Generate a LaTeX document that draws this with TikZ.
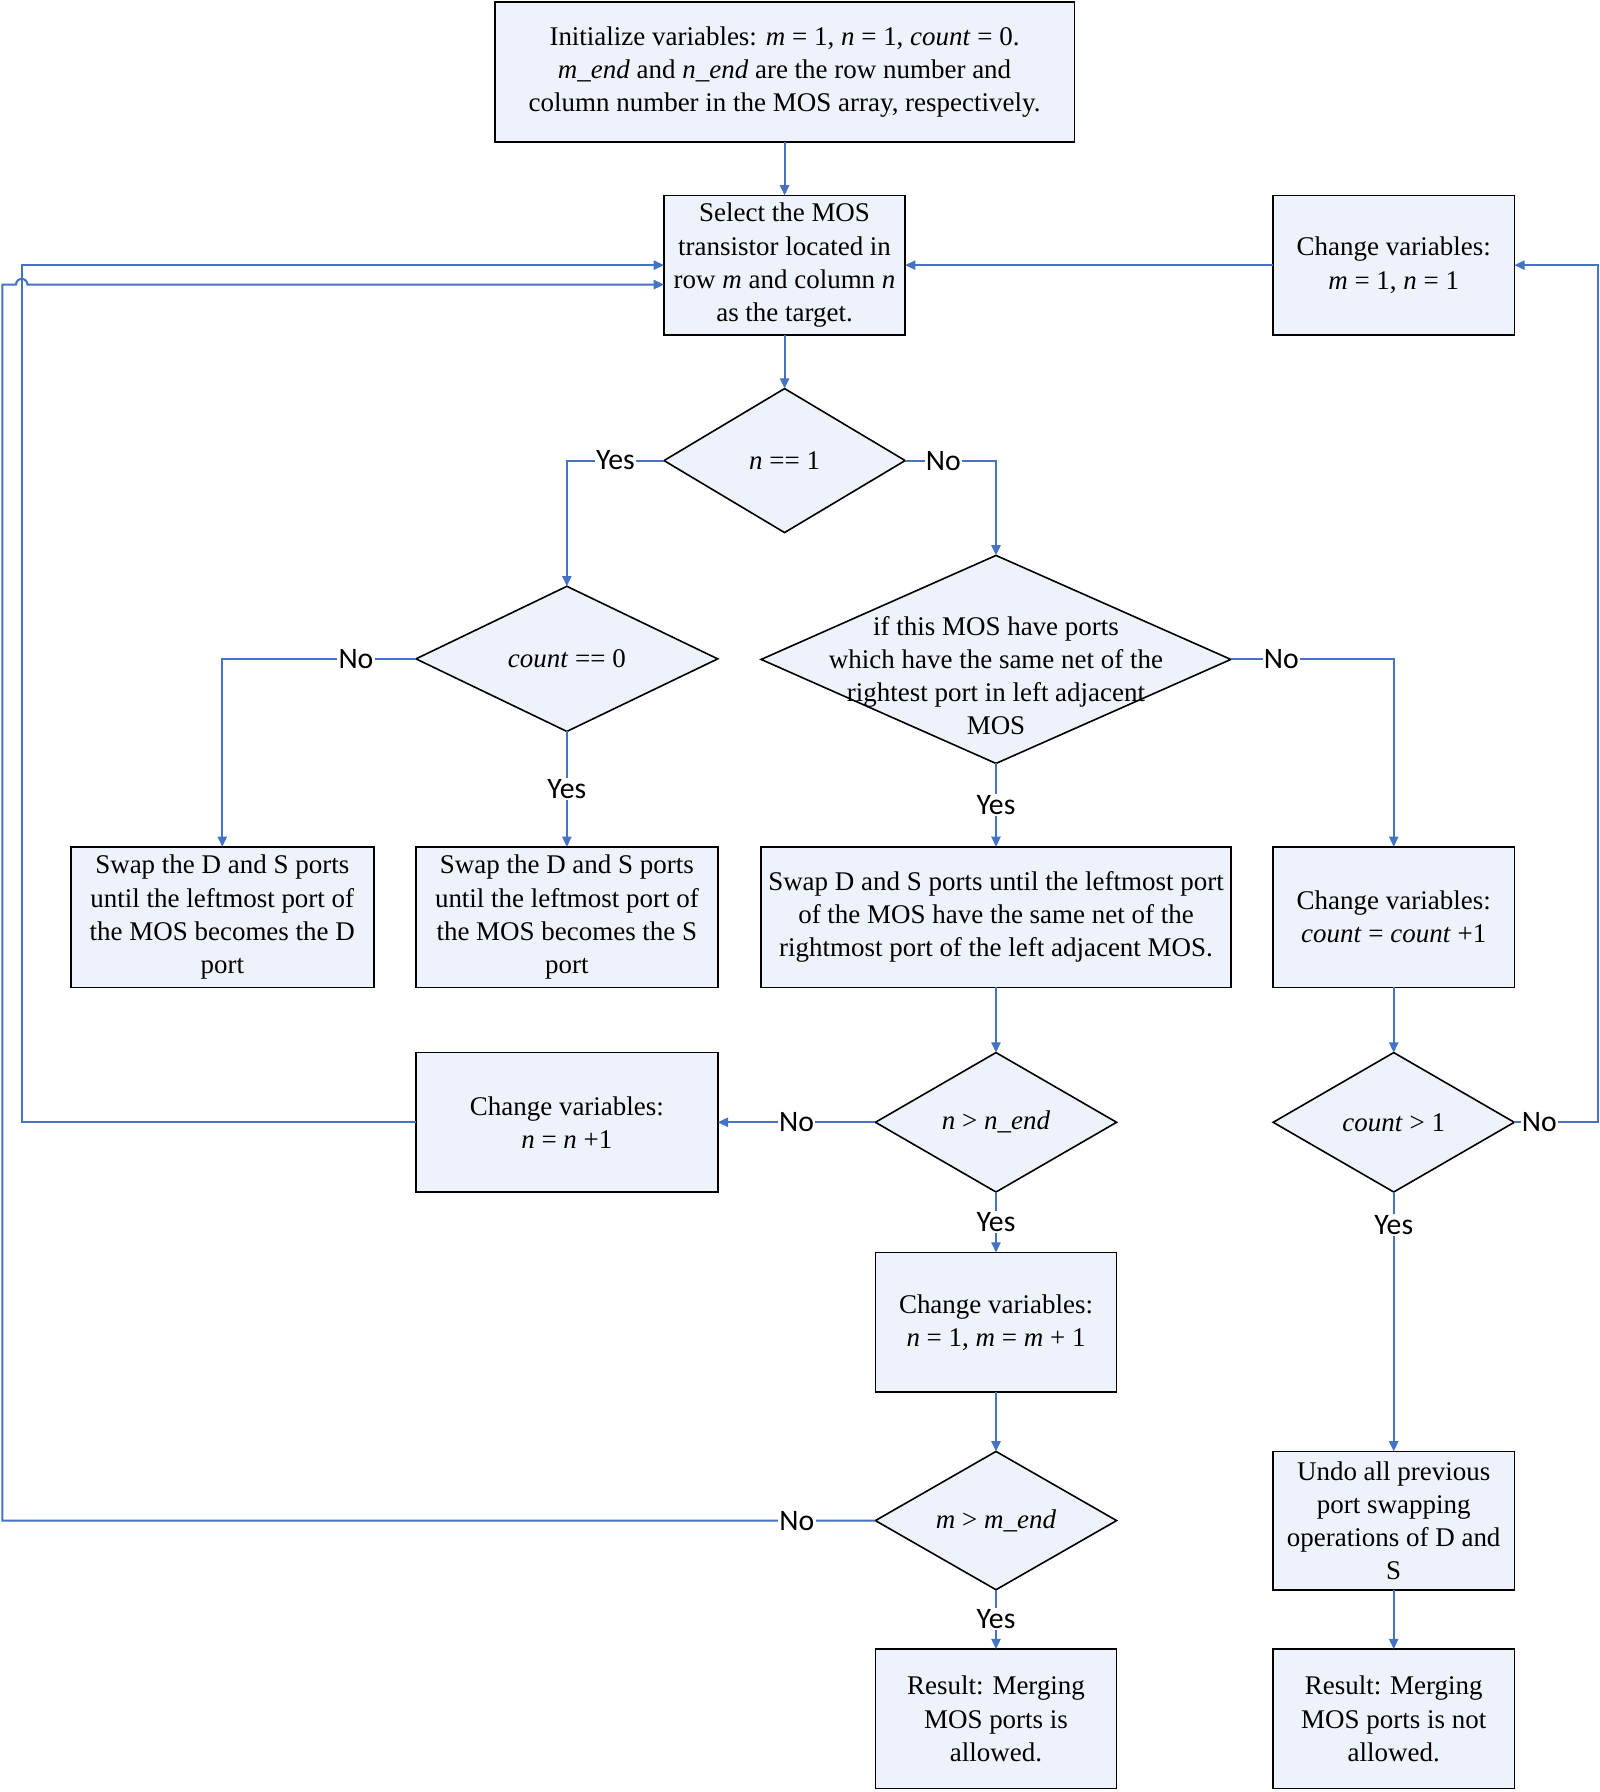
\documentclass[tikz,border=0pt]{standalone}
\usepackage{fontspec}
\setmainfont{LiberationSerif}[Extension=.ttf, UprightFont=*-Regular, ItalicFont=*-Italic, BoldFont=*-Bold, BoldItalicFont=*-BoldItalic]
\newfontfamily\labfont{Carlito}
\usetikzlibrary{shapes.geometric,arrows.meta,calc}
\definecolor{boxfill}{RGB}{238,242,250}
\definecolor{linkblue}{RGB}{68,114,196}
\tikzset{
  txt/.style={font=\fontsize{11.8pt}{14.5pt}\selectfont, align=center},
  box/.style={draw=black, line width=0.7pt, fill=boxfill, rectangle, inner sep=0pt, outer sep=0pt, txt},
  dia/.style={draw=black, line width=0.7pt, fill=boxfill, diamond, inner sep=0pt, outer sep=0pt},
  arr/.style={draw=linkblue, line width=0.9pt, -{Triangle[length=4.5pt,width=4pt]}},
  lab/.style={font=\labfont\fontsize{13pt}{15pt}\selectfont, fill=white, inner sep=0.6pt, text=black},
}
\begin{document}
\begin{tikzpicture}[x=0.5pt,y=-0.5pt]
\useasboundingbox (0,0) rectangle (1400,1568);
% nodes
\node[box, minimum width=253.5pt, minimum height=61pt] (init) at (686.5,63)
  {Initialize variables: \textit{m} = 1, \textit{n} = 1, \textit{count} = 0.\\
   \textit{m\_end} and \textit{n\_end} are the row number and\\
   column number in the MOS array, respectively.};
\node[box, minimum width=105.5pt, minimum height=61pt] (select) at (686.5,232)
  {Select the MOS\\ transistor located in\\ row \textit{m} and column \textit{n}\\ as the target.};
\node[box, minimum width=105.5pt, minimum height=61pt] (chg) at (1219.5,232)
  {Change variables:\\ \textit{m} = 1, \textit{n} = 1};
\node[dia, minimum width=105.5pt, minimum height=63pt,
  label={[txt]center:\textit{n} == 1}] (d1) at (686.5,403) {};
\node[dia, minimum width=132pt, minimum height=63.5pt,
  label={[txt]center:\textit{count} == 0}] (d2) at (496,576.5) {};
\node[dia, minimum width=205.5pt, minimum height=91pt,
  label={[txt, yshift=-7pt]center:if this MOS have ports\\ which have the same net of the\\ rightest port in left adjacent\\ MOS}] (d3) at (871.5,577) {};
\node[box, minimum width=132.5pt, minimum height=61.5pt] (swapD) at (194.5,802.5)
  {Swap the D and S ports\\ until the leftmost port of\\ the MOS becomes the D\\ port};
\node[box, minimum width=132pt, minimum height=61.5pt] (swapS) at (496,802.5)
  {Swap the D and S ports\\ until the leftmost port of\\ the MOS becomes the S\\ port};
\node[box, minimum width=205.5pt, minimum height=61.5pt] (swapN) at (871.5,802.5)
  {Swap D and S ports until the leftmost port\\ of the MOS have the same net of the\\ rightmost port of the left adjacent MOS.};
\node[box, minimum width=105.5pt, minimum height=61.5pt] (cnt) at (1219.5,802.5)
  {Change variables:\\ \textit{count} = \textit{count} +1};
\node[dia, minimum width=105.5pt, minimum height=61pt,
  label={[txt]center:\textit{n} > \textit{n\_end}}] (d4) at (871.5,982) {};
\node[box, minimum width=132pt, minimum height=61pt] (nn) at (496,982)
  {Change variables:\\ \textit{n} = \textit{n} +1};
\node[dia, minimum width=105.5pt, minimum height=61pt,
  label={[txt]center:\textit{count} > 1}] (d5) at (1219.5,982) {};
\node[box, minimum width=105.5pt, minimum height=61pt] (mm) at (871.5,1157)
  {Change variables:\\ \textit{n} = 1, \textit{m} = \textit{m} + 1};
\node[dia, minimum width=105.5pt, minimum height=60.5pt,
  label={[txt]center:\textit{m} > \textit{m\_end}}] (d6) at (871.5,1330.5) {};
\node[box, minimum width=105.5pt, minimum height=60.5pt] (undo) at (1219.5,1330.5)
  {Undo all previous\\ port swapping\\ operations of D and\\ S};
\node[box, minimum width=105.5pt, minimum height=61pt] (res1) at (871.5,1504)
  {Result: Merging\\ MOS ports is\\ allowed.};
\node[box, minimum width=105.5pt, minimum height=61pt] (res2) at (1219.5,1504)
  {Result: Merging\\ MOS ports is not\\ allowed.};
% helper coordinates
\coordinate (lx1) at (19,0);
\coordinate (lx2) at (2,0);
\coordinate (rx) at (1398,0);
\coordinate (sel2) at ([yshift=-8.5pt]select.west);
% connectors
\draw[arr] (init.south) -- (select.north);
\draw[arr] (select.south) -- (d1.north);
\draw[arr] (d1.west) -- node[lab]{Yes} (d2.north |- d1.west) -- (d2.north);
\draw[arr] (d1.east) -- node[lab, pos=0.42]{No} (d3.north |- d1.east) -- (d3.north);
\draw[arr] (d2.west) -- node[lab, pos=0.31]{No} (swapD.north |- d2.west) -- (swapD.north);
\draw[arr] (d2.south) -- node[lab]{Yes} (swapS.north);
\draw[arr] (d3.south) -- node[lab]{Yes} (swapN.north);
\draw[arr] (d3.east) -- node[lab, pos=0.31]{No} (cnt.north |- d3.east) -- (cnt.north);
\draw[arr] (swapN.south) -- (d4.north);
\draw[arr] (d4.west) -- node[lab]{No} (nn.east);
\draw[arr] (nn.west) -- (lx1 |- nn.west) -- (lx1 |- select.west) -- (select.west);
\draw[arr] (d4.south) -- node[lab]{Yes} (mm.north);
\draw[arr] (mm.south) -- (d6.north);
\draw[arr] (d6.west) -- node[lab, pos=0.09]{No} (lx2 |- d6.west) -- (lx2 |- sel2)
  -- ([xshift=-2.5pt]lx1 |- sel2) arc (180:360:5) -- (sel2);
\draw[arr] (d6.south) -- node[lab]{Yes} (res1.north);
\draw[arr] (cnt.south) -- (d5.north);
\draw[arr] (d5.east) -- node[lab, pos=0.3]{No} (rx |- d5.east) -- (rx |- chg.east) -- (chg.east);
\draw[arr] (chg.west) -- (select.east);
\draw[arr] (d5.south) -- node[lab, pos=0.128]{Yes} (undo.north);
\draw[arr] (undo.south) -- (res2.north);
\end{tikzpicture}
\end{document}
